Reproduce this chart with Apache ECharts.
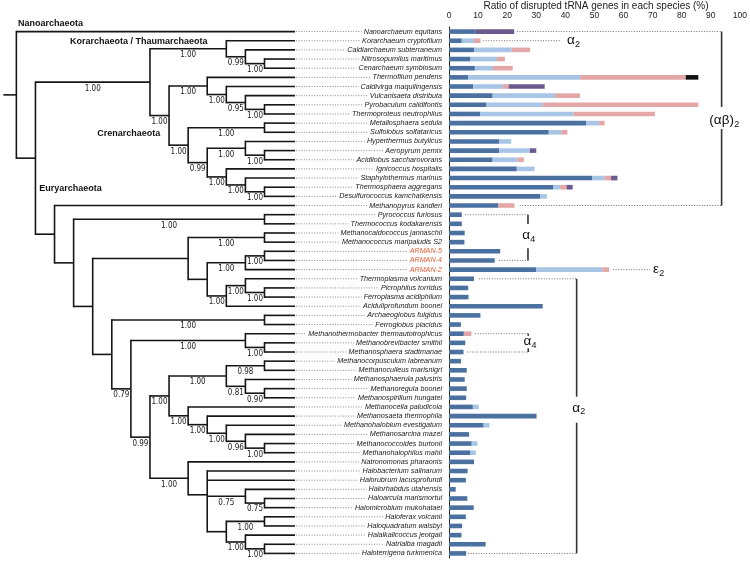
<!DOCTYPE html>
<html><head><meta charset="utf-8">
<script src="https://cdn.jsdelivr.net/npm/echarts@6/dist/echarts.min.js"></script>
<style>html,body{margin:0;padding:0;background:#fff}#c{width:750px;height:561px}</style>
</head><body><div id="c"></div>
<script>
// ---------------- data ----------------
const species = [
 'Nanoarchaeum equitans','Korarchaeum cryptofilum','Caldiarchaeum subterraneum','Nitrosopumilus maritimus',
 'Cenarchaeum symbiosum','Thermofilum pendens','Caldivirga maquilingensis','Vulcanisaeta distributa',
 'Pyrobaculum calidifontis','Thermoproteus neutrophilus','Metallosphaera sedula','Sulfolobus solfataricus',
 'Hyperthermus butylicus','Aeropyrum pernix','Acidilobus saccharovorans','Ignicoccus hospitalis',
 'Staphylothermus marinus','Thermosphaera aggregans','Desulfurococcus kamchatkensis','Methanopyrus kandleri',
 'Pyrococcus furiosus','Thermococcus kodakarensis','Methanocaldococcus jannaschii','Methanococcus maripaludis S2',
 'ARMAN-5','ARMAN-4','ARMAN-2','Thermoplasma volcanium','Picrophilus torridus','Ferroplasma acidiphilum',
 'Aciduliprofundum boonei','Archaeoglobus fulgidus','Ferroglobus placidus','Methanothermobacter thermautotrophicus',
 'Methanobrevibacter smithii','Methanosphaera stadtmanae','Methanocorpusculum labreanum','Methanoculleus marisnigri',
 'Methanosphaerula palustris','Methanoregula boonei','Methanospirillum hungatei','Methanocella paludicola',
 'Methanosaeta thermophila','Methanohalobium evestigatum','Methanosarcina mazei','Methanococcoides burtonii',
 'Methanohalophilus mahii','Natronomonas pharaonis','Halobacterium salinarum','Halorubrum lacusprofundi',
 'Halorhabdus utahensis','Haloarcula marismortui','Halomicrobium mukohataei','Haloferax volcanii',
 'Haloquadratum walsbyi','Halalkalicoccus jeotgali','Natrialba magadii','Haloterrigena turkmenica'
];
const type1 = [9.2,4.4,8.6,7.4,8.9,6.6,8.3,15.0,12.9,10.7,47.2,34.3,17.2,17.2,15.0,23.3,49.2,35.9,31.4,17.0,
 4.4,4.4,5.4,5.3,17.6,15.7,29.9,8.6,6.6,6.7,32.2,10.8,4.1,5.1,5.6,5.0,4.1,6.1,5.4,6.1,5.9,8.2,30.1,11.9,6.9,7.8,7.4,
 8.6,6.4,5.8,2.3,6.3,8.5,5.8,4.5,4.3,12.6,5.9];
const type2 = [0,4.2,12.9,9.1,6.2,38.5,10.3,21.4,19.3,32.1,4.4,4.3,4.2,10.6,8.6,6.1,4.3,2.3,2.2,0,
 0,0,0,0,0,0,22.8,0,0,0,0,0,0,0,0,0,0,0,0,0,0,2.0,0,2.0,0,2.0,1.8,
 0,0,0,0,0,0,0,0,0,0,0];
const type3 = [0,2.2,6.4,2.7,6.8,36.3,1.9,8.6,53.5,28.0,1.9,2.1,0,0,2.1,0,2.2,2.2,0,5.5,
 0,0,0,0,0,0,2.3,0,0,0,0,0,0,2.6,0,0,0,0,0,0,0,0,0,0,0,0,0,
 0,0,0,0,0,0,0,0,0,0,0];
const type4 = [13.2,0,0,0,0,0,12.4,0,0,0,0,0,0,2.2,0,0,2.2,2.1,0,0,
 0,0,0,0,0,0,0,0,0,0,0,0,0,0,0,0,0,0,0,0,0,0,0,0,0,0,0,
 0,0,0,0,0,0,0,0,0,0,0];
const type5 = [0,0,0,0,0,4.3,0,0,0,0,0,0,0,0,0,0,0,0,0,0,
 0,0,0,0,0,0,0,0,0,0,0,0,0,0,0,0,0,0,0,0,0,0,0,0,0,0,0,
 0,0,0,0,0,0,0,0,0,0,0];
const xTicks = [0,10,20,30,40,50,60,70,80,90,100];

// tree nodes: [node depth, support, ...children]; leaves are species names
const thaumClade = [11, '1.00', 'Korarchaeum cryptofilum',
  [12, '0.99', 'Caldiarchaeum subterraneum',
    [13, '1.00', 'Nitrosopumilus maritimus', 'Cenarchaeum symbiosum']]];
const thermoproteales = [10, '1.00', 'Thermofilum pendens',
  [11, '1.00', 'Caldivirga maquilingensis',
    [12, '0.95', 'Vulcanisaeta distributa',
      [13, '1.00', 'Pyrobaculum calidifontis', 'Thermoproteus neutrophilus']]]];
const sulfoDesulfo = [9, '1.00',
  [13, '1.00', 'Metallosphaera sedula', 'Sulfolobus solfataricus'],
  [10, '0.99',
    [12, '1.00', 'Hyperthermus butylicus',
      [13, '1.00', 'Aeropyrum pernix', 'Acidilobus saccharovorans']],
    [11, '1.00', 'Ignicoccus hospitalis',
      [12, '1.00', 'Staphylothermus marinus',
        [13, '1.00', 'Thermosphaera aggregans', 'Desulfurococcus kamchatkensis']]]]];
const crenClade = [8, '1.00', thermoproteales, sulfoDesulfo];
const tackClade = [7, '1.00', thaumClade, crenClade];
const methanococci = [9, '',
  [13, '1.00', 'Methanocaldococcus jannaschii', 'Methanococcus maripaludis S2'],
  [10, '',
    [12, '1.00', [13, '1.00', 'ARMAN-5', 'ARMAN-4'], 'ARMAN-2'],
    [11, '1.00',
      [12, '1.00', 'Thermoplasma volcanium',
        [13, '1.00', 'Picrophilus torridus', 'Ferroplasma acidiphilum']],
      'Aciduliprofundum boonei']]];
const methanomicrobiales = [11, '1.00',
  [13, '0.98', 'Methanocorpusculum labreanum', 'Methanoculleus marisnigri'],
  [12, '0.81', 'Methanosphaerula palustris',
    [13, '0.90', 'Methanoregula boonei', 'Methanospirillum hungatei']]];
const methanosarcinales = [9, '1.00', 'Methanocella paludicola',
  [10, '1.00', 'Methanosaeta thermophila',
    [11, '1.00', 'Methanohalobium evestigatum',
      [12, '0.96', 'Methanosarcina mazei',
        [13, '1.00', 'Methanococcoides burtonii', 'Methanohalophilus mahii']]]]];
const halobacteria = [9, '1.00', 'Natronomonas pharaonis',
  [10, '', 'Halobacterium salinarum', 'Halorubrum lacusprofundi',
    [12, '0.75', 'Halorhabdus utahensis',
      [13, '0.75', 'Haloarcula marismortui', 'Halomicrobium mukohataei']],
    [11, '',
      [13, '1.00', 'Haloferax volcanii', 'Haloquadratum walsbyi'],
      [12, '1.00', 'Halalkalicoccus jeotgali',
        [13, '1.00', 'Natrialba magadii', 'Haloterrigena turkmenica']]]]];
const class2 = [6, '0.79',
  [12, '1.00', 'Methanothermobacter thermautotrophicus',
    [13, '1.00', 'Methanobrevibacter smithii', 'Methanosphaera stadtmanae']],
  [7, '0.99', [8, '1.00', methanomicrobiales, methanosarcinales], halobacteria]];
const euryClade = [2, '', 'Methanopyrus kandleri',
  [3, '',
    [13, '1.00', 'Pyrococcus furiosus', 'Thermococcus kodakarensis'],
    [4, '', methanococci,
      [5, '', [13, '1.00', 'Archaeoglobus fulgidus', 'Ferroglobus placidus'], class2]]]];
const tree = [0, '', 'Nanoarchaeum equitans', [1, '', tackClade, euryClade]];
const LEAF_DEPTH = 14.6, NAME_DEPTH = 22.3, ROOT_STUB = -0.68;
const highlighted = ['ARMAN-5','ARMAN-4','ARMAN-2'];

// subunit-architecture brackets (x in %, rows as 0-based row index)
const bracketMain = ['(αβ)','α','α','ε','α','α'];
const bracketSub  = ['2','2','4','2','4','2'];
const bracketRows = [[0,19],[1],[20,25],[26],[33,35],[27,57]];
const bracketStarts = [[23.2,24.2],[11.7],[5.45,17.1],[56.05],[8.9,6.15],[10.2,6.5]];
const bracketX = [93.2,37.9,27.0,68.7,27.1,43.64];
const bracketGap = [[8.24,10.64],null,[21.02,23.67],null,[33.23,34.6],[39.88,42.72]];
const bracketLabelPos = [[97.4,9.66],[43.0,1.0],[27.7,22.3],[71.8,25.95],[28.1,33.85],[44.8,41.1]];

// ---------------- chart ----------------
const chart = echarts.init(document.getElementById('c'), null, {renderer:'canvas'});
const FONT = "'Liberation Sans', Arial, Helvetica, sans-serif";
const NARROW = "'Liberation Sans Narrow', 'DejaVu Sans Condensed', 'Liberation Sans', sans-serif";
const GRID_TOP = 27, GRID_BOTTOM = 3;

function renderTree(params, api) {
  const els = [];
  const px = d => api.coord([d, 0])[0];
  const py = r => api.coord([0, r])[1];
  function layout(node) {
    if (typeof node === 'string') return {leaf:true, name:node, d:LEAF_DEPTH, y:species.indexOf(node)};
    const d = node[0], s = node[1];
    const kids = node.slice(2).map(layout);
    const y = kids.reduce((a, k) => a + k.y, 0) / kids.length;
    return {d:d, s:s, kids:kids, y:y};
  }
  const root = layout(tree);
  function draw(n, parentD) {
    const x = px(n.d), y = py(n.y);
    if (n.leaf) {
      els.push({type:'line', shape:{x1:x+1, y1:y, x2:px(NAME_DEPTH), y2:y},
        style:{stroke:'#7a7a7a', lineWidth:0.9, lineDash:[1,1.6]}});
      els.push({type:'text', z2:10, style:{text:n.name, x:px(NAME_DEPTH), y:y, align:'right', verticalAlign:'middle',
        fontSize:7.2, fontStyle:'italic', fontFamily:FONT,
        fill: highlighted.indexOf(n.name) >= 0 ? '#e0603a' : '#1a1a1a',
        backgroundColor:'#fff', padding:[0,0,0,2]}});
      return;
    }
    const ys = n.kids.map(k => py(k.y));
    els.push({type:'line', shape:{x1:x, y1:Math.min.apply(null, ys), x2:x, y2:Math.max.apply(null, ys)},
      style:{stroke:'#161616', lineWidth:1.6, lineCap:'square'}});
    n.kids.forEach(k => {
      els.push({type:'line', shape:{x1:x, y1:py(k.y), x2:px(k.d), y2:py(k.y)}, style:{stroke:'#161616', lineWidth:1.6}});
      draw(k, n.d);
    });
    if (n.s && parentD !== null) {
      els.push({type:'text', style:{text:n.s, x:(px(parentD) + x) / 2, y:y + 6.3, align:'center', verticalAlign:'middle',
        fontSize:8, fontFamily:NARROW, fill:'#1a1a1a'}});
    }
  }
  els.push({type:'line', shape:{x1:px(ROOT_STUB), y1:py(root.y), x2:px(root.d), y2:py(root.y)},
    style:{stroke:'#161616', lineWidth:1.6}});
  draw(root, null);
  return {type:'group', children:els};
}

function renderBracket(params, api) {
  const i = params.dataIndex;
  const X = v => api.coord([v, 0])[0];
  const Y = r => api.coord([0, r])[1];
  const els = [];
  const rows = bracketRows[i], starts = bracketStarts[i], bx = X(bracketX[i]);
  rows.forEach((r, k) => {
    els.push({type:'line', shape:{x1:X(starts[k]), y1:Y(r), x2:bx, y2:Y(r)},
      style:{stroke:'#6e6e6e', lineWidth:1, lineDash:[1,1.6]}});
  });
  if (rows.length > 1) {
    const g = bracketGap[i];
    const vs = {stroke:'#333', lineWidth:1.6};
    els.push({type:'line', shape:{x1:bx, y1:Y(rows[0]), x2:bx, y2:Y(g[0])}, style:vs});
    els.push({type:'line', shape:{x1:bx, y1:Y(g[1]), x2:bx, y2:Y(rows[1])}, style:vs});
  }
  const lp = bracketLabelPos[i];
  const lx = X(lp[0]), ly = Y(lp[1]);
  els.push({type:'text', style:{text:bracketMain[i], x:lx, y:ly, align:'right', verticalAlign:'middle',
    fontSize:13.5, fontFamily:FONT, fill:'#111'}});
  els.push({type:'text', style:{text:bracketSub[i], x:lx + 0.3, y:ly + 4, align:'left', verticalAlign:'middle',
    fontSize:9, fontFamily:FONT, fill:'#111'}});
  return {type:'group', children:els};
}

const segColors = ['#4a71a0','#a9c5e6','#e2a7a6','#6b5b8d','#111111'];
const segNames = ['Type 1','Type 2','Type 3','Type 4','Type 5'];
const segData = [type1, type2, type3, type4, type5];
const cladeFont = "bold 9px 'Liberation Sans', Arial";

chart.setOption({
  animation:false,
  backgroundColor:'#fff',
  title:{text:'Ratio of disrupted tRNA genes in each species (%)', left:596, top:1, padding:0, textAlign:'center',
    textStyle:{fontSize:10, fontWeight:'normal', color:'#222', fontFamily:FONT}},
  grid:[
    {left:449, right:8.5, top:GRID_TOP, bottom:GRID_BOTTOM},
    {left:3, width:439, top:GRID_TOP, bottom:GRID_BOTTOM},
    {left:449, right:8.5, top:GRID_TOP, bottom:GRID_BOTTOM}
  ],
  xAxis:[
    {type:'value', gridIndex:0, position:'top', min:xTicks[0], max:xTicks[xTicks.length-1], interval:xTicks[1]-xTicks[0],
      axisLine:{show:false}, axisTick:{show:false}, splitLine:{show:false},
      axisLabel:{fontSize:8.5, color:'#222', margin:7, fontFamily:FONT}},
    {type:'value', gridIndex:1, min:ROOT_STUB - 0.02, max:NAME_DEPTH, show:false},
    {type:'value', gridIndex:2, min:0, max:100, show:false}
  ],
  yAxis:[
    {type:'category', gridIndex:0, inverse:true, data:species,
      axisLine:{show:true, lineStyle:{color:'#222', width:1}}, axisTick:{show:false}, axisLabel:{show:false}},
    {type:'value', gridIndex:1, min:-0.5, max:species.length - 0.5, inverse:true, show:false},
    {type:'value', gridIndex:2, min:-0.5, max:species.length - 0.5, inverse:true, show:false}
  ],
  graphic:[
    {type:'text', x:18, y:24, style:{text:'Nanoarchaeota', verticalAlign:'middle', font:cladeFont, fill:'#111'}},
    {type:'text', x:70, y:41.7, style:{text:'Korarchaeota / Thaumarchaeota', verticalAlign:'middle', font:cladeFont, fill:'#111'}},
    {type:'text', x:97.3, y:133.3, style:{text:'Crenarchaeota', verticalAlign:'middle', font:cladeFont, fill:'#111'}},
    {type:'text', x:39.3, y:189, style:{text:'Euryarchaeota', verticalAlign:'middle', font:cladeFont, fill:'#111'}}
  ],
  series: segData.map((d, k) => ({
    type:'bar', name:segNames[k], xAxisIndex:0, yAxisIndex:0, stack:'total', barWidth:4.6,
    itemStyle:{color:segColors[k]}, data:d
  })).concat([
    {type:'custom', name:'tree', xAxisIndex:1, yAxisIndex:1, clip:false, renderItem:renderTree, data:[[0,0]], silent:true},
    {type:'custom', name:'brackets', xAxisIndex:2, yAxisIndex:2, clip:false, renderItem:renderBracket,
      data:bracketMain.map((_, i) => [0, i]), silent:true}
  ])
});
</script></body></html>
